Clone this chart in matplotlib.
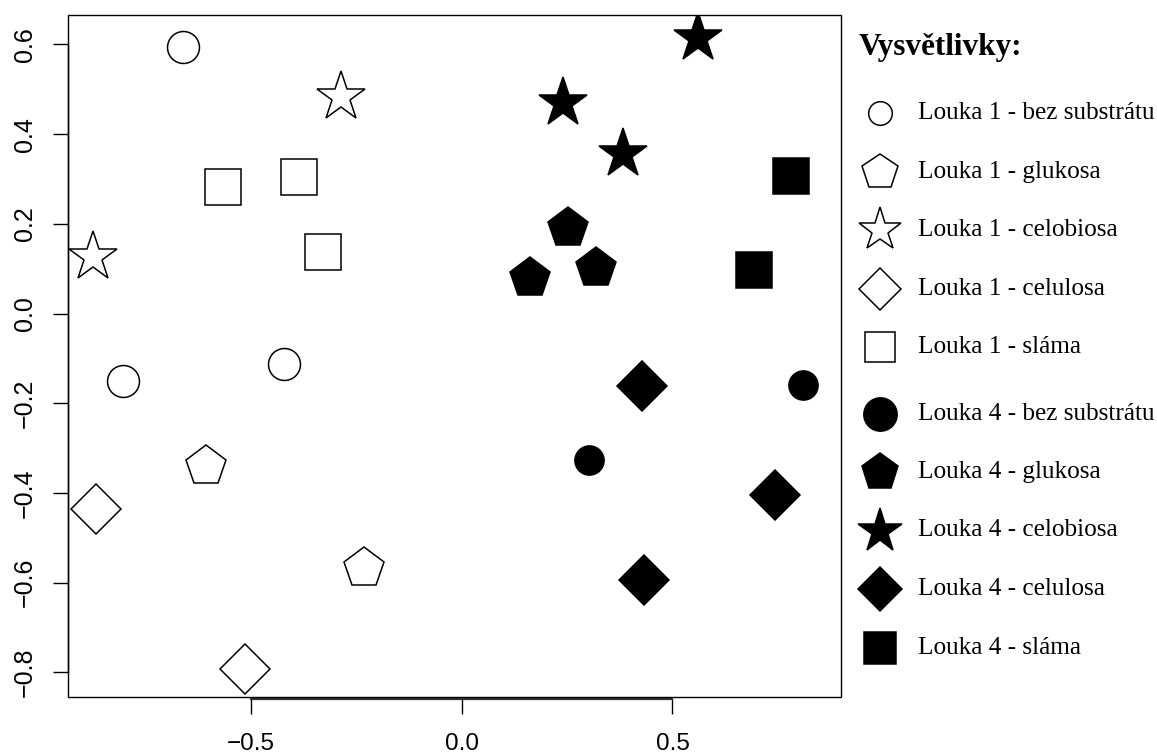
import matplotlib
matplotlib.use("Agg")
import matplotlib.pyplot as plt
from matplotlib.patches import Rectangle

# NMDS-like ordination scores
l1_bez_x = [-0.660, -0.802, -0.421]
l1_bez_y = [0.594, -0.150, -0.113]
l1_glu_x = [-0.605, -0.231]
l1_glu_y = [-0.340, -0.567]
l1_celob_x = [-0.286, -0.873]
l1_celob_y = [0.483, 0.126]
l1_celul_x = [-0.866, -0.512]
l1_celul_y = [-0.436, -0.792]
l1_slama_x = [-0.565, -0.385, -0.328]
l1_slama_y = [0.282, 0.304, 0.137]

l4_bez_x = [0.809, 0.302]
l4_bez_y = [-0.159, -0.327]
l4_glu_x = [0.252, 0.162, 0.319]
l4_glu_y = [0.191, 0.079, 0.101]
l4_celob_x = [0.560, 0.240, 0.383]
l4_celob_y = [0.614, 0.469, 0.356]
l4_celul_x = [0.428, 0.743, 0.432]
l4_celul_y = [-0.162, -0.405, -0.594]
l4_slama_x = [0.781, 0.693]
l4_slama_y = [0.306, 0.097]

labels = ["Louka 1 - bez substrátu", "Louka 1 - glukosa", "Louka 1 - celobiosa",
          "Louka 1 - celulosa", "Louka 1 - sláma",
          "Louka 4 - bez substrátu", "Louka 4 - glukosa", "Louka 4 - celobiosa",
          "Louka 4 - celulosa", "Louka 4 - sláma"]
xticks = [-0.5, 0.0, 0.5]
yticks = [-0.8, -0.6, -0.4, -0.2, 0.0, 0.2, 0.4, 0.6]

series = [
    (l1_bez_x, l1_bez_y), (l1_glu_x, l1_glu_y), (l1_celob_x, l1_celob_y),
    (l1_celul_x, l1_celul_y), (l1_slama_x, l1_slama_y),
    (l4_bez_x, l4_bez_y), (l4_glu_x, l4_glu_y), (l4_celob_x, l4_celob_y),
    (l4_celul_x, l4_celul_y), (l4_slama_x, l4_slama_y),
]
markers = ["o", "p", "*", "D", "s"] * 2
fills = ["white"] * 5 + ["black"] * 5
plot_ms = [23, 30, 37, 25, 26.5, 21, 30, 37, 25, 26.5]
leg_ms = [17, 26.5, 32.5, 21, 22, 24, 28, 33, 22, 23.5]

fig = plt.figure(figsize=(11.57, 7.53), dpi=100)
ax = fig.add_axes([68 / 1157, 1 - 696.7 / 753, (840.7 - 68) / 1157, (696.7 - 15) / 753])

for (xs, ys), m, fc, ms in zip(series, markers, fills, plot_ms):
    ax.plot(xs, ys, linestyle="none", marker=m, ms=ms, mfc=fc, mec="black", mew=1.1)

ax.set_xlim(-0.9325, 0.8986)
ax.set_ylim(-0.854, 0.6654)

# box
for s in ["top", "right"]:
    ax.spines[s].set_visible(False)
ax.add_patch(Rectangle((0, 0), 1, 1, transform=ax.transAxes, fill=False,
                       lw=1.0, ec="black", zorder=5, clip_on=False))
ax.spines["bottom"].set_bounds(-0.5, 0.5)
ax.spines["bottom"].set_position(("outward", 1.5))
ax.spines["bottom"].set_linewidth(1.6)
ax.spines["bottom"].set_color("#333333")
ax.spines["left"].set_bounds(-0.8, 0.6)
ax.spines["left"].set_linewidth(1.0)

ax.set_xticks(xticks)
ax.set_xticklabels(["\u22120.5", "0.0", "0.5"])
ax.set_yticks(yticks)
ax.set_yticklabels(["\u22120.8", "\u22120.6", "\u22120.4", "\u22120.2", "0.0", "0.2", "0.4", "0.6"])
ax.tick_params(axis="both", direction="out", length=10.8, width=1.0, labelsize=17.5)
ax.tick_params(axis="x", pad=14)
ax.tick_params(axis="y", pad=11.5, labelrotation=90, labelsize=18)
for lab in ax.get_xticklabels() + ax.get_yticklabels():
    lab.set_family("Liberation Sans")
for lab in ax.get_yticklabels():
    lab.set_va("center")

# legend drawn in a pixel-coordinate overlay
lax = fig.add_axes([0, 0, 1, 1])
lax.set_xlim(0, 1157)
lax.set_ylim(753, 0)
lax.axis("off")
lax.text(859, 55, "Vysvětlivky:", fontsize=22.5, fontweight="bold",
         family="Liberation Serif", ha="left", va="baseline")
row_y = 113
for i, (lab, m, fc, ms) in enumerate(zip(labels, markers, fills, leg_ms)):
    if i == 5:
        row_y += 8
    lax.plot([880], [row_y], linestyle="none", marker=m, ms=ms, mfc=fc,
             mec="black", mew=1.1, clip_on=False)
    lax.text(918, row_y, lab, fontsize=18.2, family="Liberation Serif",
             ha="left", va="center")
    row_y += 58.5

fig.savefig("out.png", dpi=100)
